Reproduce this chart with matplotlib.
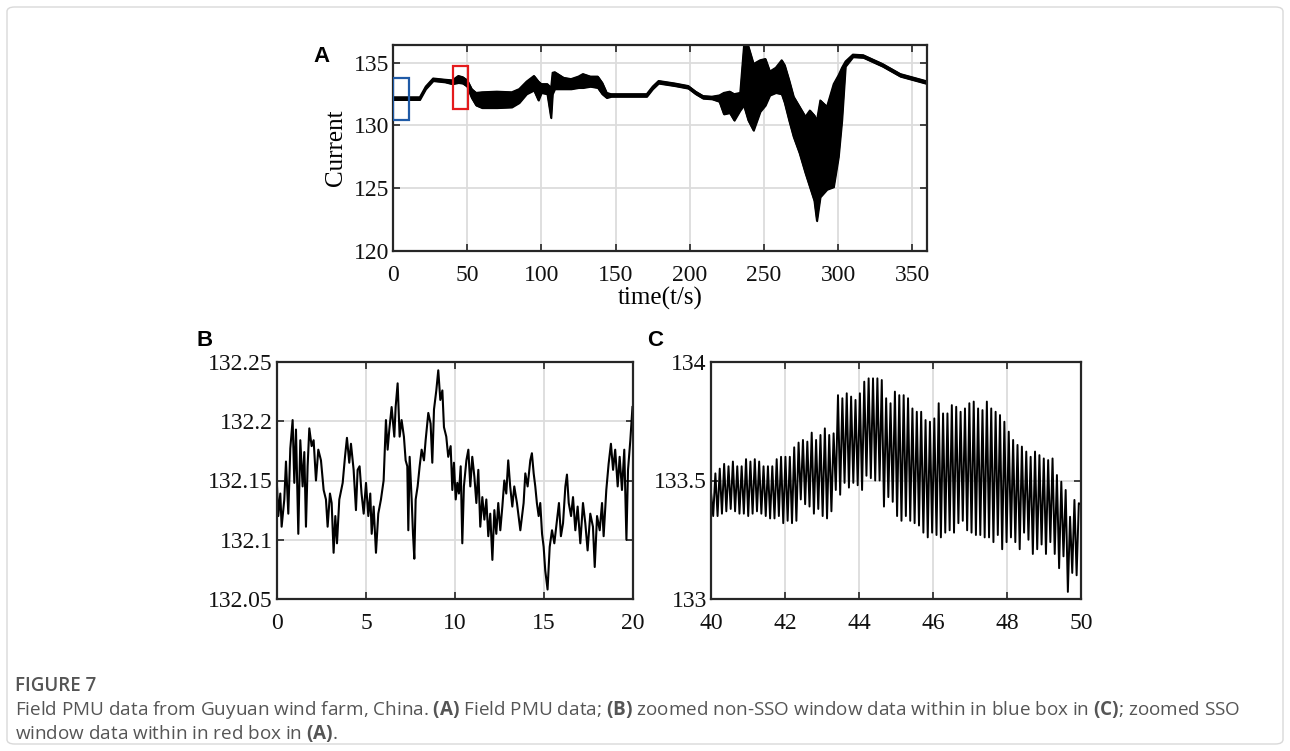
import numpy as np
import matplotlib
matplotlib.use("Agg")
import matplotlib.pyplot as plt
from matplotlib.patches import Rectangle, FancyBboxPatch

# ---------------- Panel A: envelope of field PMU current ----------------
t_a = [0, 10, 18, 22, 27, 35, 40, 44, 47, 50, 53, 56, 60, 70, 80, 85, 90, 95, 98, 100,
       104, 106.5, 107.5, 109, 115, 120, 125, 128, 133, 138, 141, 144, 147, 160, 171,
       175, 179, 190, 199, 204, 209, 215, 220, 223, 227, 230, 234, 236.5, 239.5, 243,
       247.5, 251, 254, 258, 262, 264, 267, 270, 274, 278, 281, 284, 285.7, 288, 292.5,
       297, 300.3, 302.6, 305, 310, 317, 330, 342, 359]
upper_a = [132.25, 132.25, 132.25, 133.1, 133.75, 133.65, 133.6, 133.95, 133.85, 133.6,
           132.9, 132.6, 132.65, 132.7, 132.65, 132.9, 133.5, 133.95, 133.5, 133.3,
           133.3, 133.0, 134.2, 134.25, 133.8, 133.7, 133.9, 134.1, 133.9, 133.9,
           133.4, 132.6, 132.5, 132.5, 132.5, 133.1, 133.55, 133.35, 133.15, 132.7,
           132.35, 132.3, 132.4, 132.6, 132.7, 132.5, 132.6, 136.3, 136.3, 134.9,
           135.2, 135.3, 134.3, 134.6, 135.2, 134.8, 133.6, 132.3, 131.5, 130.7,
           131.2, 130.8, 130.4, 132.0, 131.5, 133.3, 134.0, 134.6, 135.1, 135.65,
           135.6, 134.9, 134.1, 133.55]
lower_a = [132.05, 132.05, 132.05, 132.9, 133.55, 133.45, 133.3, 133.4, 133.35, 133.1,
           132.2, 131.6, 131.4, 131.4, 131.45, 131.8, 132.5, 132.8, 132.0, 132.6,
           132.5, 130.6, 132.5, 132.9, 132.9, 132.9, 133.0, 133.0, 133.1, 133.0,
           132.5, 132.2, 132.3, 132.3, 132.3, 132.9, 133.35, 133.15, 132.95, 132.5,
           132.15, 132.1, 131.9, 130.9, 131.0, 130.4, 131.2, 131.6, 130.4, 129.6,
           131.1, 131.6, 132.4, 132.6, 132.5, 131.8, 130.4, 129.1, 127.8, 126.2,
           125.1, 124.0, 122.4, 124.3, 124.9, 125.1, 127.5, 130.4, 134.7, 135.45,
           135.4, 134.7, 133.9, 133.35]

# window boxes drawn in panel A (time start, time end, value low, value high)
blue_box = [0, 10.5, 130.4, 133.8]
red_box = [40.5, 50.5, 131.3, 134.7]

# ---------------- Panel B: non-SSO window (0-20 s), (time, value) pairs ----------------
b_points = [
    (0.0, 132.145), (0.073, 132.12), (0.185, 132.139), (0.26, 132.111), (0.41, 132.134),
    (0.504, 132.166), (0.635, 132.122), (0.747, 132.177), (0.878, 132.201), (0.972, 132.148),
    (1.066, 132.193), (1.197, 132.105), (1.309, 132.184), (1.44, 132.145), (1.534, 132.174),
    (1.627, 132.111), (1.72, 132.162), (1.815, 132.194), (1.946, 132.179), (2.058, 132.184),
    (2.189, 132.150), (2.32, 132.176), (2.47, 132.167), (2.62, 132.142), (2.75, 132.134),
    (2.844, 132.111), (2.975, 132.139), (3.07, 132.131), (3.18, 132.089), (3.276, 132.12),
    (3.37, 132.097), (3.5, 132.134), (3.69, 132.148), (3.82, 132.17), (3.93, 132.186),
    (4.06, 132.165), (4.155, 132.181), (4.305, 132.159), (4.436, 132.125), (4.53, 132.159),
    (4.64, 132.162), (4.75, 132.139), (4.87, 132.122), (5.0, 132.148), (5.13, 132.12),
    (5.24, 132.139), (5.32, 132.105), (5.43, 132.128), (5.56, 132.089), (5.69, 132.122),
    (5.84, 132.134), (5.99, 132.15), (6.12, 132.201), (6.215, 132.176), (6.31, 132.193),
    (6.44, 132.212), (6.59, 132.187), (6.665, 132.212), (6.777, 132.232), (6.89, 132.187),
    (7.0, 132.201), (7.13, 132.187), (7.227, 132.167), (7.32, 132.162), (7.377, 132.108),
    (7.452, 132.17), (7.565, 132.134), (7.64, 132.105), (7.714, 132.084), (7.79, 132.134),
    (7.9, 132.145), (8.014, 132.162), (8.126, 132.176), (8.257, 132.167), (8.35, 132.184),
    (8.5, 132.207), (8.63, 132.198), (8.725, 132.165), (8.82, 132.21), (8.95, 132.226),
    (9.06, 132.243), (9.175, 132.218), (9.29, 132.226), (9.38, 132.195), (9.51, 132.187),
    (9.62, 132.17), (9.755, 132.179), (9.85, 132.142), (9.94, 132.165), (10.04, 132.134),
    (10.13, 132.148), (10.22, 132.139), (10.32, 132.162), (10.41, 132.097), (10.5, 132.145),
    (10.64, 132.167), (10.75, 132.176), (10.86, 132.145), (10.97, 132.17), (11.09, 132.153),
    (11.2, 132.131), (11.31, 132.159), (11.42, 132.111), (11.535, 132.136), (11.65, 132.117),
    (11.76, 132.134), (11.87, 132.103), (11.98, 132.122), (12.1, 132.083), (12.21, 132.125),
    (12.32, 132.105), (12.43, 132.131), (12.545, 132.108), (12.66, 132.128), (12.77, 132.15),
    (12.88, 132.139), (12.99, 132.167), (13.1, 132.145), (13.22, 132.128), (13.33, 132.145),
    (13.48, 132.131), (13.67, 132.108), (13.855, 132.131), (13.95, 132.156), (14.08, 132.145),
    (14.23, 132.167), (14.32, 132.173), (14.42, 132.156), (14.51, 132.145), (14.6, 132.131),
    (14.7, 132.12), (14.79, 132.131), (14.89, 132.105), (14.98, 132.094), (15.07, 132.074),
    (15.2, 132.058), (15.32, 132.094), (15.45, 132.108), (15.58, 132.097), (15.73, 132.117),
    (15.84, 132.131), (15.95, 132.103), (16.07, 132.114), (16.2, 132.145), (16.29, 132.155),
    (16.39, 132.131), (16.52, 132.12), (16.63, 132.136), (16.76, 132.108), (16.89, 132.128),
    (17.04, 132.097), (17.19, 132.131), (17.32, 132.114), (17.45, 132.091), (17.6, 132.122),
    (17.75, 132.111), (17.85, 132.077), (17.98, 132.12), (18.13, 132.108), (18.26, 132.131),
    (18.35, 132.103), (18.5, 132.142), (18.63, 132.164), (18.76, 132.181), (18.88, 132.159),
    (19.0, 132.176), (19.14, 132.145), (19.25, 132.17), (19.38, 132.142), (19.51, 132.176),
    (19.63, 132.1), (19.72, 132.159), (19.85, 132.184), (19.97, 132.212),
]
t_b = [p[0] for p in b_points]
v_b = [p[1] for p in b_points]

# ---------------- Panel C: SSO window (40-50 s), per-cycle peaks / troughs ----------------
c_start, c_end = 40.0, 50.0
c_first, c_last = 133.45, 133.40
peaks_c = [133.53, 133.55, 133.57, 133.56, 133.58, 133.56, 133.56, 133.59, 133.58, 133.59,
           133.58, 133.56, 133.56, 133.56, 133.59, 133.60, 133.60, 133.60, 133.64, 133.66,
           133.671, 133.664, 133.702, 133.671, 133.692, 133.72, 133.692, 133.699, 133.86,
           133.847, 133.868, 133.854, 133.84, 133.868, 133.917, 133.931, 133.931, 133.931,
           133.924, 133.847, 133.826, 133.875,
           133.86, 133.86, 133.847, 133.804, 133.79, 133.79, 133.755, 133.748, 133.762,
           133.826, 133.783, 133.783, 133.818, 133.811, 133.79, 133.804, 133.826, 133.833,
           133.804, 133.797, 133.833,
           133.804, 133.79, 133.776, 133.748, 133.706, 133.671, 133.65, 133.643, 133.622,
           133.60, 133.622, 133.607, 133.593, 133.586, 133.593, 133.523, 133.495, 133.46,
           133.347, 133.418, 133.404]
troughs_c = [133.35, 133.35, 133.36, 133.37, 133.38, 133.37, 133.36, 133.36, 133.35, 133.36,
             133.37, 133.36, 133.35, 133.34, 133.34, 133.35, 133.32, 133.33, 133.32, 133.33,
             133.42, 133.40, 133.39, 133.36, 133.38, 133.35, 133.34, 133.37, 133.46, 133.44,
             133.49, 133.47, 133.49, 133.48, 133.46, 133.52, 133.51, 133.50, 133.50, 133.39,
             133.43, 133.41,
             133.35, 133.33, 133.35, 133.33, 133.32, 133.31, 133.28, 133.26, 133.28, 133.27,
             133.26, 133.28, 133.29, 133.28, 133.32, 133.33, 133.29, 133.28, 133.27, 133.27,
             133.26,
             133.26, 133.24, 133.27, 133.21, 133.24, 133.26, 133.24, 133.21, 133.28, 133.25,
             133.19, 133.21, 133.23, 133.19, 133.24, 133.19, 133.13, 133.18, 133.03, 133.11,
             133.10]

# ---------------- styling ----------------
SERIF = ["Liberation Serif", "DejaVu Serif"]
SANS = ["Liberation Sans", "DejaVu Sans"]
CAP = ["Open Sans", "Noto Sans", "DejaVu Sans"]
plt.rcParams["font.family"] = SERIF
plt.rcParams["mathtext.fontset"] = "custom"
plt.rcParams["mathtext.rm"] = "Open Sans"
plt.rcParams["mathtext.bf"] = "Open Sans:bold"
EDGE = "#262626"
GRID = "#dcdcdc"
TICK_FS = 17

fig = plt.figure(figsize=(12.9, 7.51), dpi=100)
W, H = 1290.0, 751.0


def add_axes_px(x0, y0, x1, y1):
    return fig.add_axes([x0 / W, 1 - y1 / H, (x1 - x0) / W, (y1 - y0) / H])


def style(ax):
    for s in ax.spines.values():
        s.set_linewidth(1.6)
        s.set_color(EDGE)
    ax.tick_params(direction="in", length=5, width=1.2, top=True, right=True,
                   labelsize=TICK_FS, colors=EDGE, labelcolor="#111111", pad=3)
    ax.tick_params(axis="x", pad=10)
    ax.grid(True, color=GRID, linewidth=1.3)
    ax.set_axisbelow(True)


# Panel A
axA = add_axes_px(393, 45, 927, 251)
axA.fill_between(t_a, lower_a, upper_a, color="black", linewidth=1.2, edgecolor="black")
axA.plot(t_a, upper_a, color="black", lw=1.2)
axA.plot(t_a, lower_a, color="black", lw=1.2)
for box, col in ((blue_box, "#1f5aa6"), (red_box, "#e41a1c")):
    axA.add_patch(Rectangle((box[0], box[2]), box[1] - box[0], box[3] - box[2],
                            fill=False, edgecolor=col, linewidth=1.6, zorder=5))
axA.set_xlim(0, 360)
axA.set_ylim(120, 136.4)
axA.set_xticks(np.arange(0, 351, 50))
axA.set_yticks([120, 125, 130, 135])
style(axA)
axA.set_ylabel("Current", fontsize=18, labelpad=5)
axA.set_xlabel("time(t/s)", fontsize=18, labelpad=1)

# Panel B
axB = add_axes_px(277, 362, 633, 599)
axB.plot(t_b, v_b, color="black", lw=1.5)
axB.set_xlim(0, 20)
axB.set_ylim(132.05, 132.25)
axB.set_xticks([0, 5, 10, 15, 20])
axB.set_yticks([132.05, 132.1, 132.15, 132.2, 132.25])
axB.set_yticklabels(["132.05", "132.1", "132.15", "132.2", "132.25"])
style(axB)

# Panel C
vals_c = [c_first]
for tr, pk in zip(troughs_c, peaks_c):
    vals_c += [tr, pk]
vals_c.append(c_last)
t_c = np.linspace(c_start, c_end, len(vals_c))
axC = add_axes_px(711, 362, 1081, 599)
axC.plot(t_c, vals_c, color="black", lw=1.4)
axC.set_xlim(40, 50)
axC.set_ylim(133, 134)
axC.set_xticks(np.arange(40, 51, 2))
axC.set_yticks([133, 133.5, 134])
axC.set_yticklabels(["133", "133.5", "134"])
style(axC)

# Panel letters
for txt, x, y in (("A", 322, 56), ("B", 205, 341), ("C", 655, 341)):
    fig.text(x / W, 1 - y / H, txt, fontsize=16, fontweight="bold", family=SANS,
             ha="center", va="center")

# Outer frame
fig.patches.append(FancyBboxPatch((7 / W, 7 / H), 1276 / W, 737 / H,
                                  boxstyle="round,pad=0,rounding_size=0.006",
                                  transform=fig.transFigure, fill=False,
                                  edgecolor="#d9d9d9", linewidth=1.0))

# Caption
fig.text(15 / W, 1 - 686 / H, "FIGURE 7", fontsize=13.5, family=CAP, color="#555555",
         fontweight="semibold", va="center", ha="left")
fig.text(15 / W, 1 - 710 / H,
         "Field PMU data from Guyuan wind farm, China. $\\mathbf{(A)}$ Field PMU data; "
         "$\\mathbf{(B)}$ zoomed non-SSO window data within in blue box in $\\mathbf{(C)}$; "
         "zoomed SSO", fontsize=13.6, family=CAP, color="#555555", va="center", ha="left")
fig.text(15 / W, 1 - 734 / H, "window data within in red box in $\\mathbf{(A)}$.",
         fontsize=13.6, family=CAP, color="#555555", va="center", ha="left")

fig.savefig("out.png", dpi=100)
